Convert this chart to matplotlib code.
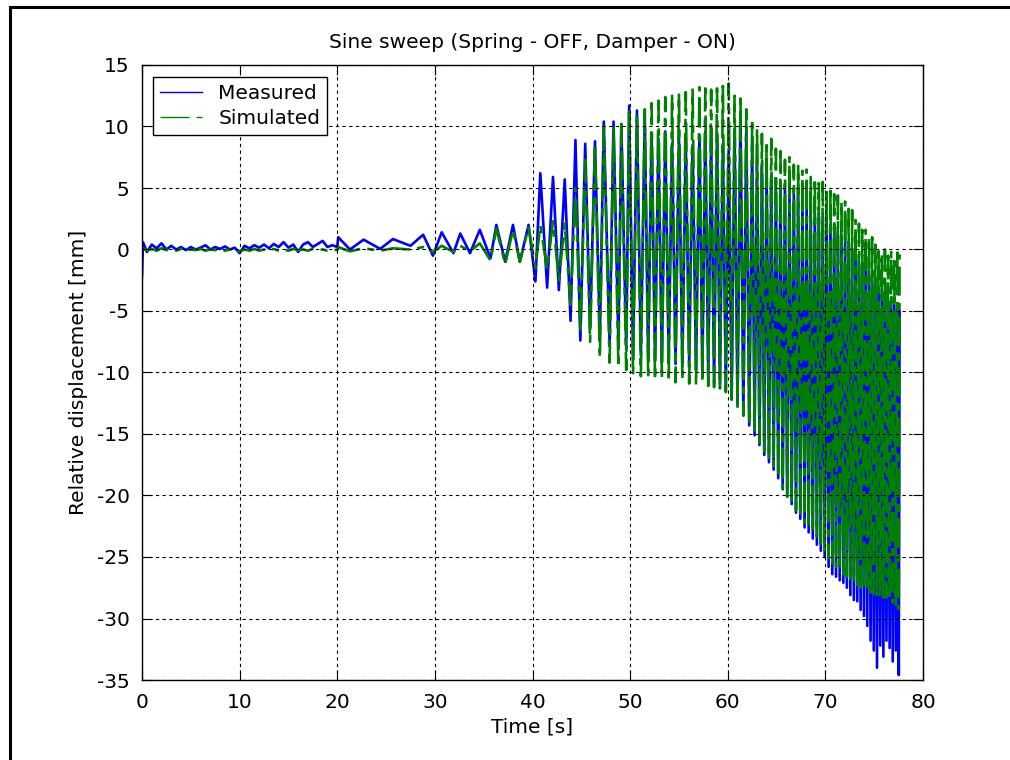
"""
Sine sweep response: measured vs simulated relative displacement.
"""

import numpy as np
import matplotlib
matplotlib.use("Agg")
import matplotlib.pyplot as plt
from matplotlib.lines import Line2D

# ============================================================
# DATA
# ============================================================
# quiet part before the sweep picks up (0 - 20 s)
QUIET_T = [0.0, 0.1, 0.5, 1.0, 1.5, 2.0, 2.5, 3.0, 3.5, 4.0,
           4.5, 5.0, 5.5, 6.0, 6.5, 7.0, 7.5, 8.0, 8.5, 9.0,
           9.5, 10.0, 10.5, 11.0, 11.5, 12.0, 12.5, 13.0, 13.5, 14.0,
           14.5, 15.0, 15.5, 16.0, 16.5, 17.0, 17.5, 18.0, 18.5, 19.0,
           19.5]
QUIET_MEAS = [-2.2, 0.6, -0.2, 0.4, 0.1, 0.5, 0.0, 0.3, 0.0, 0.2,
              -0.05, 0.2, 0.0, 0.15, 0.35, 0.0, 0.2, 0.05, 0.25, 0.0,
              0.15, -0.3, 0.3, 0.1, 0.35, 0.15, 0.4, 0.1, 0.45, 0.2,
              0.6, 0.15, 0.4, -0.2, 0.4, 0.6, 0.2, 0.45, 0.7, 0.2,
              0.35]
QUIET_SIM = [0.0, 0.1, -0.1, 0.05, -0.1, 0.1, -0.05, 0.0, -0.1, 0.05,
             -0.1, 0.0, -0.05, 0.05, -0.1, 0.0, -0.05, 0.05, -0.1, 0.0,
             -0.05, -0.15, 0.0, -0.1, 0.05, -0.1, 0.0, -0.05, 0.05, -0.1,
             0.0, -0.1, 0.05, -0.05, 0.0, -0.1, 0.05, -0.05, 0.0, -0.1,
             0.0]

# sweep part: turning points (trough / peak) of each cycle, 20 s onwards
SWEEP_T = [20.0, 20.1, 21.3, 22.7, 24.4, 25.7, 27.5, 28.8, 29.8, 30.7,
           31.9, 32.6, 33.6, 34.6, 35.7, 36.3, 37.2, 38.0, 38.7, 39.6,
           40.3, 40.8, 41.5, 42.1, 42.7, 43.3, 43.9, 44.4, 44.9, 45.4,
           45.9, 46.4, 46.9, 47.3, 47.9, 48.3, 48.8, 49.1, 49.6, 49.9,
           50.3, 50.7, 51.1, 51.5, 51.85, 52.2, 52.55, 52.9, 53.25, 53.6,
           53.95, 54.3, 54.65, 55.0, 55.35, 55.7, 56.05, 56.4, 56.75, 57.1,
           57.4, 57.7, 58.0, 58.3, 58.6, 58.9, 59.2, 59.5, 59.8, 60.1,
           60.4, 60.7, 61.0, 61.3, 61.6, 61.9, 62.2, 62.5, 62.75, 63.0,
           63.25, 63.5, 63.74, 63.98, 64.22, 64.46, 64.7, 64.93, 65.17, 65.4,
           65.63, 65.86, 66.09, 66.32, 66.55, 66.77, 66.99, 67.21, 67.43, 67.65,
           67.87, 68.08, 68.29, 68.5, 68.71, 68.92, 69.13, 69.33, 69.53, 69.73,
           69.93, 70.13, 70.33, 70.52, 70.71, 70.9, 71.09, 71.28, 71.47, 71.65,
           71.84, 72.02, 72.2, 72.38, 72.56, 72.74, 72.92, 73.09, 73.27, 73.44,
           73.61, 73.78, 73.95, 74.12, 74.29, 74.46, 74.63, 74.79, 74.96, 75.12,
           75.29, 75.45, 75.62, 75.78, 75.94, 76.1, 76.26, 76.42, 76.58, 76.74,
           76.9, 77.06, 77.22, 77.38, 77.52, 77.6]

SWEEP_MEAS = [0.2, 1.0, 0.0, 0.8, 0.05, 0.85, 0.3, 1.2, -0.5, 1.4,
              -0.3, 1.3, -0.3, 1.6, -0.7, 2.0, -1.0, 2.0, -1.0, 2.0,
              -2.6, 6.2, -3.1, 5.9, -3.3, 5.7, -5.8, 8.9, -7.4, 8.6,
              -6.5, 8.8, -7.0, 10.4, -7.7, 10.4, -7.7, 10.2, -8.1, 11.7,
              -8.6, 11.3, -8.6, 10.8, -8.8, 9.5, -9.0, 9.0, -9.2, 9.6,
              -8.8, 8.6, -9.3, 9.2, -9.5, 9.0, -9.2, 8.5, -9.8, 9.3,
              -10.0, 9.6, -10.3, 9.0, -10.8, 9.5, -11.0, 8.6, -11.5, 8.2,
              -12.2, 9.8, -12.6, 11.2, -13.5, 10.0, -14.3, 8.5, -15.1, 7.6,
              -15.9, 7.0, -16.7, 6.7, -17.3, 6.0, -17.9, 5.8, -18.6, 5.3,
              -19.5, 5.2, -20.1, 4.8, -20.7, 4.6, -21.4, 5.3, -21.9, 4.3,
              -22.6, 4.0, -23.0, 3.6, -23.5, 3.3, -24.0, 3.0, -24.5, 2.7,
              -25.0, 2.4, -25.8, 2.0, -26.4, 1.8, -26.6, 1.4, -26.9, 1.1,
              -27.1, 0.8, -27.5, 0.4, -28.1, 0.1, -28.5, -0.4, -28.6, -0.8,
              -29.3, -1.2, -29.8, -1.5, -30.6, -1.8, -31.8, -2.2, -32.6, -2.5,
              -34.0, -3.0, -32.2, -3.2, -33.1, -3.5, -31.8, -3.9, -32.4, -4.2,
              -33.5, -4.5, -32.6, -4.8, -34.6, -5.0]

SWEEP_SIM = [-0.05, 0.2, -0.15, 0.1, -0.1, 0.1, 0.0, 0.2, -0.2, 0.3,
             -0.2, 0.3, -0.15, 0.5, -0.9, 1.7, -1.2, 1.6, -1.0, 1.8,
             -1.5, 2.0, -1.6, 2.3, -2.5, 2.1, -4.5, 5.0, -6.8, 7.3,
             -7.5, 8.6, -8.8, 10.0, -9.2, 10.0, -9.6, 10.2, -9.8, 11.2,
             -10.2, 11.0, -10.3, 11.4, -10.4, 11.9, -10.6, 12.1, -10.5, 12.4,
             -10.7, 12.5, -10.8, 12.7, -10.6, 12.8, -10.9, 13.0, -11.0, 13.2,
             -10.8, 13.1, -11.1, 13.0, -11.2, 13.1, -11.3, 13.3, -11.6, 13.5,
             -12.2, 12.5, -12.8, 12.6, -13.5, 11.4, -14.2, 10.6, -14.8, 9.8,
             -15.7, 9.4, -16.4, 8.8, -17.1, 9.0, -17.6, 8.2, -18.5, 8.0,
             -19.4, 7.3, -20.1, 7.5, -20.6, 6.9, -21.2, 6.8, -21.7, 6.4,
             -22.2, 6.5, -22.6, 5.9, -23.0, 5.8, -23.3, 5.4, -23.9, 5.5,
             -24.6, 5.0, -25.1, 5.1, -25.5, 4.5, -25.8, 4.4, -26.1, 3.9,
             -26.4, 3.9, -26.6, 3.3, -26.9, 3.2, -27.0, 2.4, -27.3, 2.1,
             -27.5, 1.6, -27.6, 1.6, -27.8, 1.0, -27.9, 1.0, -28.0, 0.4,
             -28.1, 0.2, -28.2, -0.3, -28.3, 0.0, -28.3, -0.5, -28.5, -0.2,
             -28.7, -0.6, -28.9, 0.1, -29.2, -0.4]

X_TICKS = [0, 10, 20, 30, 40, 50, 60, 70, 80]
Y_TICKS = [-35, -30, -25, -20, -15, -10, -5, 0, 5, 10, 15]

TITLE = "Sine sweep (Spring - OFF, Damper - ON)"
X_LABEL = "Time [s]"
Y_LABEL = "Relative displacement [mm]"

# ============================================================
# STYLE
# ============================================================
COLOR_MEAS = "#0000FF"
COLOR_SIM = "#008000"
FONT_SIZE = 14.5
LINE_W = 1.9

plt.rcParams.update({
    "font.family": "DejaVu Sans",
    "font.size": FONT_SIZE,
    "axes.linewidth": 1.0,
    "axes.unicode_minus": False,
})


def make_plot(path="out.png"):
    assert len(SWEEP_T) == len(SWEEP_MEAS) == len(SWEEP_SIM)
    t = np.array(QUIET_T + SWEEP_T)
    meas = np.array(QUIET_MEAS + SWEEP_MEAS)
    sim = np.array(QUIET_SIM + SWEEP_SIM)

    fig = plt.figure(figsize=(10.1, 7.6), dpi=100)
    ax = fig.add_axes([142 / 1010, 80 / 760, 781 / 1010, 615 / 760])

    ax.plot(t, meas, color=COLOR_MEAS, linewidth=LINE_W, label="Measured")
    ax.plot(t, sim, color=COLOR_SIM, linewidth=LINE_W,
            linestyle=(0, (11, 2.7, 2.7, 2.7)), label="Simulated")

    ax.set_xlim(0, 80)
    ax.set_ylim(-35, 15)
    ax.set_xticks(X_TICKS)
    ax.set_yticks(Y_TICKS)

    # MATLAB look: dotted grid on top of data, ticks inside on all four sides
    ax.set_axisbelow(False)
    ax.grid(True, color="black", linestyle=(0, (3, 3)), linewidth=0.8)
    ax.tick_params(direction="in", length=7, width=0.8, top=True, right=True,
                   labelsize=FONT_SIZE)
    ax.tick_params(axis="x", pad=9)
    ax.tick_params(axis="y", pad=9)

    ax.set_title(TITLE, fontsize=FONT_SIZE, pad=12)
    ax.set_xlabel(X_LABEL, fontsize=FONT_SIZE, labelpad=4)
    ax.set_ylabel(Y_LABEL, fontsize=FONT_SIZE, labelpad=6)

    leg = ax.legend(loc="upper left", bbox_to_anchor=(0.014, 0.9805),
                    borderaxespad=0, fancybox=False, framealpha=1,
                    edgecolor="black", handlelength=2.1, handletextpad=0.8,
                    borderpad=0.35, labelspacing=0.3, fontsize=FONT_SIZE)
    leg.get_frame().set_linewidth(1.0)
    # legend samples stay thin, with the dash-dot pattern of the original key
    leg.get_lines()[0].set_linewidth(1.0)
    leg.get_lines()[1].set_linewidth(1.0)
    leg.get_lines()[1].set_linestyle((0, (21, 5, 5, 5)))

    # black frame line on left and top of the figure (cut off on the other sides)
    fig.add_artist(Line2D([9.5 / 1010, 9.5 / 1010], [0, 1 - 7 / 760],
                          color="black", linewidth=2.2,
                          transform=fig.transFigure))
    fig.add_artist(Line2D([9.5 / 1010, 1], [1 - 7 / 760, 1 - 7 / 760],
                          color="black", linewidth=2.2,
                          transform=fig.transFigure))

    fig.savefig(path, dpi=100, facecolor="white")
    plt.close(fig)


if __name__ == "__main__":
    make_plot()
